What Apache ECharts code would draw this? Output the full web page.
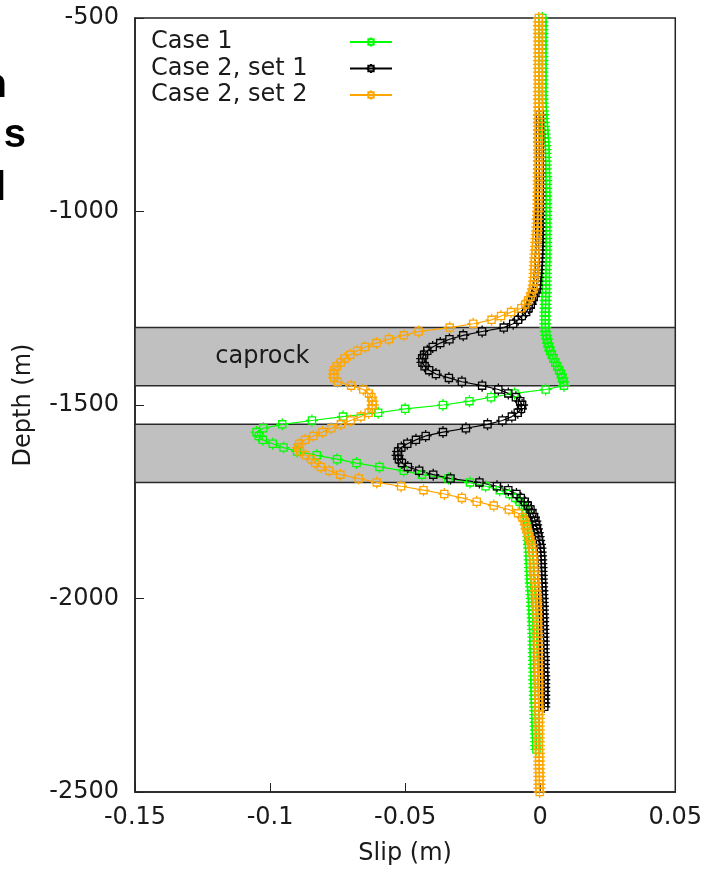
<!DOCTYPE html>
<html>
<head>
<meta charset="utf-8">
<title>Slip vs depth</title>
<script src="https://cdn.jsdelivr.net/npm/echarts@6/dist/echarts.min.js"></script>
<style>
  html, body { margin: 0; padding: 0; background: #fff; }
  #chart { width: 705px; height: 871px; }
</style>
</head>
<body>
<div id="chart"></div>
<script>
// depth of each sample (m), one row = 100 m
const depth = [
  -500, -510, -520, -530, -540, -550, -560, -570, -580, -590,
  -600, -610, -620, -630, -640, -650, -660, -670, -680, -690,
  -700, -710, -720, -730, -740, -750, -760, -770, -780, -790,
  -800, -810, -820, -830, -840, -850, -860, -870, -880, -890,
  -900, -910, -920, -930, -940, -950, -960, -970, -980, -990,
  -1000, -1010, -1020, -1030, -1040, -1050, -1060, -1070, -1080, -1090,
  -1100, -1110, -1120, -1130, -1140, -1150, -1160, -1170, -1180, -1190,
  -1200, -1210, -1220, -1230, -1240, -1250, -1260, -1270, -1280, -1290,
  -1300, -1310, -1320, -1330, -1340, -1350, -1360, -1370, -1380, -1390,
  -1400, -1410, -1420, -1430, -1440, -1450, -1460, -1470, -1480, -1490,
  -1500, -1510, -1520, -1530, -1540, -1550, -1560, -1570, -1580, -1590,
  -1600, -1610, -1620, -1630, -1640, -1650, -1660, -1670, -1680, -1690,
  -1700, -1710, -1720, -1730, -1740, -1750, -1760, -1770, -1780, -1790,
  -1800, -1810, -1820, -1830, -1840, -1850, -1860, -1870, -1880, -1890,
  -1900, -1910, -1920, -1930, -1940, -1950, -1960, -1970, -1980, -1990,
  -2000, -2010, -2020, -2030, -2040, -2050, -2060, -2070, -2080, -2090,
  -2100, -2110, -2120, -2130, -2140, -2150, -2160, -2170, -2180, -2190,
  -2200, -2210, -2220, -2230, -2240, -2250, -2260, -2270, -2280, -2290,
  -2300, -2310, -2320, -2330, -2340, -2350, -2360, -2370, -2380, -2390,
  -2400, -2410, -2420, -2430, -2440, -2450, -2460, -2470, -2480, -2490,
  -2500
]

// slip (m) for each depth, null = no sample there
const case1 = [
  0.0008, 0.0008, 0.0008, 0.0008, 0.0008, 0.0008, 0.0008, 0.0008, 0.0008, 0.0008,
  0.0008, 0.0008, 0.0008, 0.0008, 0.0008, 0.0008, 0.0008, 0.0008, 0.0008, 0.0008,
  0.0008, 0.0008, 0.0009, 0.0009, 0.0010, 0.0011, 0.0012, 0.0013, 0.0014, 0.0015,
  0.0016, 0.0017, 0.0018, 0.0019, 0.0020, 0.0020, 0.0020, 0.0021, 0.0021, 0.0021,
  0.0021, 0.0022, 0.0022, 0.0022, 0.0022, 0.0022, 0.0022, 0.0022, 0.0022, 0.0022,
  0.0022, 0.0022, 0.0022, 0.0022, 0.0022, 0.0022, 0.0022, 0.0022, 0.0022, 0.0022,
  0.0022, 0.0022, 0.0022, 0.0022, 0.0021, 0.0021, 0.0021, 0.0021, 0.0021, 0.0021,
  0.0021, 0.0021, 0.0020, 0.0020, 0.0020, 0.0020, 0.0019, 0.0019, 0.0019, 0.0019,
  0.0019, 0.0020, 0.0022, 0.0025, 0.0028, 0.0032, 0.0037, 0.0043, 0.0049, 0.0056,
  0.0063, 0.0070, 0.0077, 0.0082, 0.0086, 0.0088, 0.0020, -0.0095, -0.0182, -0.0262,
  -0.0360, -0.0500, -0.0600, -0.0730, -0.0845, -0.0955, -0.1025, -0.1050, -0.1042, -0.1027,
  -0.0990, -0.0950, -0.0900, -0.0827, -0.0752, -0.0680, -0.0595, -0.0505, -0.0438, -0.0340,
  -0.0260, -0.0202, -0.0150, -0.0114, -0.0092, -0.0076, -0.0064, -0.0055, -0.0052, -0.0050,
  -0.0048, -0.0047, -0.0046, -0.0045, -0.0044, -0.0043, -0.0042, -0.0041, -0.0040, -0.0040,
  -0.0039, -0.0038, -0.0038, -0.0037, -0.0036, -0.0036, -0.0035, -0.0034, -0.0033, -0.0032,
  -0.0031, -0.0030, -0.0030, -0.0029, -0.0028, -0.0028, -0.0027, -0.0027, -0.0026, -0.0026,
  -0.0025, -0.0025, -0.0025, -0.0024, -0.0024, -0.0024, -0.0023, -0.0023, -0.0023, -0.0022,
  -0.0022, -0.0022, -0.0021, -0.0021, -0.0020, -0.0020, -0.0020, -0.0019, -0.0019, -0.0018,
  -0.0018, -0.0018, -0.0017, -0.0017, -0.0016, -0.0016, -0.0015, -0.0015, -0.0015, -0.0014,
  null, null, null, null, null, null, null, null, null, null,
  null
]

const case2set1 = [
  null, null, null, null, null, null, null, null, null, null,
  null, null, null, null, null, null, null, null, null, null,
  null, null, null, null, null, -0.0003, -0.0003, -0.0003, -0.0003, -0.0003,
  -0.0003, -0.0003, -0.0003, -0.0003, -0.0003, -0.0003, -0.0003, -0.0003, -0.0003, -0.0003,
  -0.0003, -0.0003, -0.0003, -0.0003, -0.0003, -0.0003, -0.0003, -0.0003, -0.0003, -0.0003,
  -0.0003, -0.0003, -0.0003, -0.0003, -0.0003, -0.0003, -0.0003, -0.0003, -0.0003, -0.0003,
  -0.0004, -0.0004, -0.0005, -0.0005, -0.0006, -0.0007, -0.0008, -0.0009, -0.0011, -0.0012,
  -0.0013, -0.0018, -0.0024, -0.0030, -0.0035, -0.0043, -0.0052, -0.0068, -0.0082, -0.0100,
  -0.0135, -0.0215, -0.0285, -0.0336, -0.0370, -0.0398, -0.0418, -0.0430, -0.0437, -0.0436,
  -0.0428, -0.0411, -0.0386, -0.0338, -0.0290, -0.0215, -0.0155, -0.0118, -0.0090, -0.0074,
  -0.0067, -0.0071, -0.0083, -0.0105, -0.0140, -0.0195, -0.0275, -0.0360, -0.0424, -0.0460,
  -0.0492, -0.0514, -0.0526, -0.0528, -0.0523, -0.0512, -0.0490, -0.0448, -0.0396, -0.0332,
  -0.0225, -0.0160, -0.0118, -0.0088, -0.0072, -0.0057, -0.0046, -0.0036, -0.0029, -0.0023,
  -0.0018, -0.0015, -0.0012, -0.0009, -0.0006, -0.0004, -0.0001, 0.0001, 0.0002, 0.0003,
  0.0004, 0.0004, 0.0005, 0.0005, 0.0006, 0.0006, 0.0007, 0.0007, 0.0008, 0.0008,
  0.0009, 0.0009, 0.0010, 0.0010, 0.0010, 0.0011, 0.0011, 0.0011, 0.0012, 0.0012,
  0.0012, 0.0013, 0.0013, 0.0013, 0.0013, 0.0014, 0.0014, 0.0014, 0.0014, 0.0014,
  0.0015, 0.0015, 0.0015, 0.0015, 0.0015, 0.0015, 0.0015, 0.0015, 0.0015, null,
  null, null, null, null, null, null, null, null, null, null,
  null, null, null, null, null, null, null, null, null, null,
  null
]

const case2set2 = [
  -0.0005, -0.0005, -0.0005, -0.0005, -0.0005, -0.0005, -0.0005, -0.0005, -0.0005, -0.0005,
  -0.0005, -0.0005, -0.0005, -0.0005, -0.0005, -0.0005, -0.0005, -0.0005, -0.0005, -0.0005,
  -0.0005, -0.0005, -0.0005, -0.0005, -0.0005, -0.0005, -0.0005, -0.0005, -0.0005, -0.0005,
  -0.0005, -0.0005, -0.0005, -0.0005, -0.0005, -0.0005, -0.0005, -0.0005, -0.0005, -0.0005,
  -0.0006, -0.0006, -0.0006, -0.0006, -0.0006, -0.0007, -0.0007, -0.0007, -0.0007, -0.0007,
  -0.0008, -0.0009, -0.0010, -0.0010, -0.0011, -0.0012, -0.0013, -0.0014, -0.0015, -0.0016,
  -0.0017, -0.0018, -0.0019, -0.0020, -0.0020, -0.0021, -0.0021, -0.0022, -0.0023, -0.0024,
  -0.0027, -0.0031, -0.0036, -0.0045, -0.0055, -0.0070, -0.0108, -0.0145, -0.0180, -0.0248,
  -0.0335, -0.0450, -0.0505, -0.0560, -0.0606, -0.0648, -0.0677, -0.0703, -0.0724, -0.0738,
  -0.0754, -0.0762, -0.0765, -0.0763, -0.0750, -0.0700, -0.0655, -0.0634, -0.0625, -0.0621,
  -0.0620, -0.0624, -0.0635, -0.0664, -0.0702, -0.0738, -0.0773, -0.0806, -0.0840, -0.0870,
  -0.0892, -0.0897, -0.0889, -0.0868, -0.0847, -0.0833, -0.0812, -0.0781, -0.0740, -0.0672,
  -0.0605, -0.0515, -0.0432, -0.0355, -0.0290, -0.0235, -0.0172, -0.0116, -0.0082, -0.0066,
  -0.0058, -0.0054, -0.0051, -0.0046, -0.0042, -0.0037, -0.0032, -0.0030, -0.0028, -0.0026,
  -0.0025, -0.0024, -0.0023, -0.0022, -0.0021, -0.0020, -0.0018, -0.0017, -0.0016, -0.0015,
  -0.0014, -0.0013, -0.0013, -0.0012, -0.0012, -0.0011, -0.0011, -0.0010, -0.0010, -0.0009,
  -0.0009, -0.0009, -0.0008, -0.0008, -0.0008, -0.0008, -0.0007, -0.0007, -0.0007, -0.0007,
  -0.0006, -0.0006, -0.0006, -0.0006, -0.0006, -0.0006, -0.0006, -0.0006, -0.0006, -0.0006,
  -0.0005, -0.0005, -0.0005, -0.0005, -0.0005, -0.0005, -0.0005, -0.0005, -0.0005, -0.0005,
  -0.0004, -0.0004, -0.0004, -0.0004, -0.0004, -0.0003, -0.0003, -0.0003, -0.0003, -0.0003,
  -0.0002
]

const seriesNames = ['Case 1', 'Case 2, set 1', 'Case 2, set 2']
const seriesColors = ['#00ff00', '#000000', '#ffa500']
const seriesSlip = [case1, case2set1, case2set2]

// caprock / reservoir layers (depth ranges, m)
const bands = [[-1300, -1450], [-1550, -1700]]
const bandLabels = ['caprock', '']

const xTicks = [-0.15, -0.1, -0.05, 0, 0.05]

const font = 'DejaVu Sans'
const textColor = '#1a1a1a'

// hollow square with small ticks, like the gnuplot point
const marker = 'path://M2,2L8,2L8,8L2,8Z M5,0L5,2 M5,8L5,10 M0,5L2,5 M8,5L10,5'

const chart = echarts.init(document.getElementById('chart'))

const lineSeries = seriesNames.map((name, k) => ({
  name: name,
  type: 'line',
  z: 3,
  data: depth
    .map((d, i) => [seriesSlip[k][i], d])
    .filter(p => p[0] !== null),
  symbol: marker,
  symbolSize: 12,
  lineStyle: { color: seriesColors[k], width: 1.2 },
  itemStyle: { color: 'rgba(0,0,0,0)', borderColor: seriesColors[k], borderWidth: 1.3 },
  emphasis: { disabled: true }
}))

// gray layers drawn under the curves
const bandSeries = {
  type: 'line',
  z: 1,
  data: [],
  silent: true,
  markArea: {
    silent: true,
    itemStyle: { color: '#c0c0c0', borderColor: '#2a2a2a', borderWidth: 1.5 },
    label: {
      show: true,
      position: 'insideLeft',
      distance: 81,
      color: textColor,
      fontFamily: font,
      fontSize: 24
    },
    data: bands.map((b, i) => [
      { yAxis: b[0], name: bandLabels[i] },
      { yAxis: b[1] }
    ])
  }
}

const option = {
  animation: false,
  backgroundColor: '#fff',
  textStyle: { fontFamily: font },
  grid: {
    left: 135,
    right: 28,
    top: 18,
    bottom: 78,
    show: true,
    borderColor: '#222',
    borderWidth: 1.5,
    backgroundColor: 'transparent'
  },
  legend: {
    data: seriesNames,
    orient: 'vertical',
    align: 'right',
    left: 146,
    top: 25,
    itemGap: 2.5,
    itemWidth: 42,
    itemHeight: 11,
    formatter: name => '{t|' + name + '}',
    textStyle: {
      rich: {
        t: {
          width: 194,
          align: 'left',
          fontFamily: font,
          fontSize: 24,
          color: textColor,
          lineHeight: 26
        }
      }
    }
  },
  xAxis: {
    type: 'value',
    min: xTicks[0],
    max: xTicks[xTicks.length - 1],
    interval: 0.05,
    name: 'Slip (m)',
    nameLocation: 'middle',
    nameGap: 50,
    nameTextStyle: { fontFamily: font, fontSize: 24, color: textColor },
    splitLine: { show: false },
    axisLine: { show: true, onZero: false, lineStyle: { color: '#222', width: 1.5 } },
    axisTick: { show: true, inside: true, length: 9, lineStyle: { color: '#222' } },
    axisLabel: {
      margin: 14,
      fontFamily: font,
      fontSize: 24,
      color: textColor,
      formatter: v => String(Math.round(v * 100) / 100)
    }
  },
  yAxis: {
    type: 'value',
    min: -2500,
    max: -500,
    interval: 500,
    name: 'Depth (m)',
    nameLocation: 'middle',
    nameGap: 99,
    nameTextStyle: { fontFamily: font, fontSize: 24, color: textColor },
    splitLine: { show: false },
    axisLine: { show: true, onZero: false, lineStyle: { color: '#222', width: 1.5 } },
    axisTick: { show: true, inside: true, length: 9, lineStyle: { color: '#222' } },
    axisLabel: {
      margin: 16,
      fontFamily: font,
      fontSize: 24,
      color: textColor,
      formatter: v => String(v)
    }
  },
  // cut-off words from the neighbouring panel at the left edge
  graphic: [
    { type: 'text', x: 7, y: 106, style: { text: 'n', font: 'bold 40px "Liberation Sans"', fill: '#000', align: 'right', verticalAlign: 'bottom' } },
    { type: 'text', x: 26, y: 156, style: { text: 's', font: 'bold 40px "Liberation Sans"', fill: '#000', align: 'right', verticalAlign: 'bottom' } },
    { type: 'text', x: 6, y: 209, style: { text: 'l', font: 'bold 40px "Liberation Sans"', fill: '#000', align: 'right', verticalAlign: 'bottom' } }
  ],
  series: [bandSeries].concat(lineSeries)
}

chart.setOption(option)
</script>
</body>
</html>
